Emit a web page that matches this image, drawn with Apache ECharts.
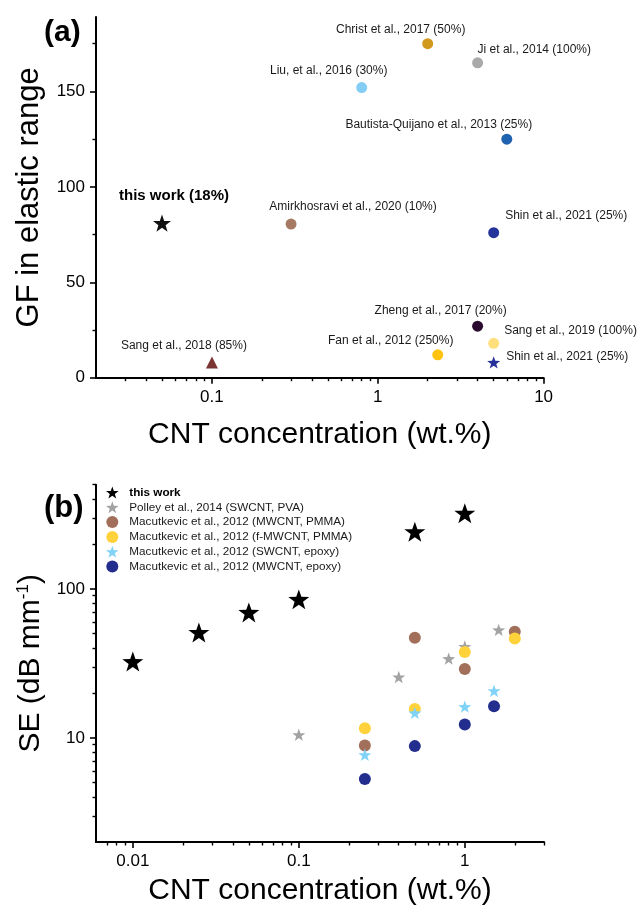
<!DOCTYPE html>
<html><head><meta charset="utf-8">
<script src="https://cdn.jsdelivr.net/npm/echarts@6/dist/echarts.min.js"></script>
<style>html,body{margin:0;padding:0;background:#fff}#c{width:640px;height:907px}</style>
</head><body><div id="c"></div>
<script>
// ---------- Panel (a): GF vs CNT concentration ----------
const gfNames = ['Christ et al., 2017 (50%)', 'Ji et al., 2014 (100%)', 'Liu, et al., 2016 (30%)',
  'Bautista-Quijano et al., 2013 (25%)', 'this work (18%)', 'Amirkhosravi et al., 2020 (10%)',
  'Shin et al., 2021 (25%)', 'Zheng et al., 2017 (20%)', 'Sang et al., 2019 (100%)',
  'Fan et al., 2012 (250%)', 'Shin et al., 2021 (25%)', 'Sang et al., 2018 (85%)'];
const gfConc  = [2.0, 4.0, 0.8, 6.0, 0.05, 0.3, 5.0, 4.0, 5.0, 2.3, 5.0, 0.1];
const gfValue = [175, 165, 152, 125, 81, 80.5, 76, 27, 18, 12, 8, 8];

// ---------- Panel (b): SE vs CNT concentration ----------
const seNames = ['this work', 'Polley et al., 2014 (SWCNT, PVA)', 'Macutkevic et al., 2012 (MWCNT, PMMA)',
  'Macutkevic et al., 2012 (f-MWCNT, PMMA)', 'Macutkevic et al., 2012 (SWCNT, epoxy)',
  'Macutkevic et al., 2012 (MWCNT, epoxy)'];
const thisWorkConc = [0.01, 0.025, 0.05, 0.1, 0.5, 1.0];
const thisWorkSE   = [32.5, 51, 69.5, 85, 242, 322];
const polleyConc   = [0.1, 0.4, 0.8, 1.0, 1.6];
const polleySE     = [10.5, 25.6, 34, 41, 53];
const mwPmmaConc   = [0.25, 0.5, 1.0, 2.0];
const mwPmmaSE     = [8.9, 47, 29, 51.5];
const fmwPmmaConc  = [0.25, 0.5, 1.0, 2.0];
const fmwPmmaSE    = [11.6, 15.6, 37.7, 46.5];
const swEpoxyConc  = [0.25, 0.5, 1.0, 1.5];
const swEpoxySE    = [7.7, 14.7, 16.2, 20.7];
const mwEpoxyConc  = [0.25, 0.5, 1.0, 1.5];
const mwEpoxySE    = [5.3, 8.8, 12.3, 16.3];

// ---------- Axes: ranges and tick labels ----------
const aXRange = [0.02, 10];
const aYRange = [0, 189];
const bXRange = [0.006, 3];
const bYRange = [2, 500];
const aXTicks = [0.1, 1, 10];      const aXTickLabels = ['0.1', '1', '10'];
const aYTicks = [0, 50, 100, 150]; const aYTickLabels = ['0', '50', '100', '150'];
const aYMinor = [25, 75, 125, 175];
const bXTicks = [0.01, 0.1, 1];    const bXTickLabels = ['0.01', '0.1', '1'];
const bYTicks = [10, 100];         const bYTickLabels = ['10', '100'];

// ---------- styles ----------
const FONT = "'Liberation Sans', Arial, sans-serif";
const STAR = 'path://M50,0L61.76,33.82L97.55,34.55L69.02,56.18L79.39,90.45L50,70L20.61,90.45L30.98,56.18L2.45,34.55L38.24,33.82Z';
const gfColors  = ['#D19A1E', '#A9A9A9', '#84CDF5', '#1F62B0', '#111111', '#A67A62', '#25349A', '#2B0B30', '#FFE07C', '#FFC20E', '#26309A', '#7B3434'];
const gfSymbols = ['circle', 'circle', 'circle', 'circle', STAR, 'circle', 'circle', 'circle', 'circle', 'circle', STAR, 'triangle'];
const gfSizes   = [11, 11, 11, 11, 18, 11, 11, 11, 11, 11, 13, 12];
// label placement relative to each point centre: [align, dx, dy]
const gfLabelPlace = [['center', -27, -14], ['left', 0, -13.5], ['center', -33, -17], ['center', -68, -14.5],
  ['center', 12, -27], ['center', 62, -17.5], ['left', 11.5, -16.5], ['center', -37, -15.5],
  ['left', 10.5, -12.5], ['center', -47, -14.5], ['left', 12.5, -5.5], ['center', -28, -16.5]];
const seColors  = ['#000000', '#A3A3A3', '#A2705A', '#FFD23C', '#80D3F7', '#232D8E'];
const seSymbols = [STAR, STAR, 'circle', 'circle', STAR, 'circle'];
const seSizes   = [21, 13, 12, 12, 13, 12];

const L10 = Math.log10;
function minorTicks(lo, hi) {
  const out = [];
  for (let d = Math.floor(L10(lo)); d <= Math.ceil(L10(hi)); d++) {
    for (let k = 2; k <= 9; k++) {
      const v = k * Math.pow(10, d);
      if (v > lo * 1.0001 && v <= hi * 1.0001) out.push(L10(v));
    }
  }
  return out;
}
function fmt(ticks, labels, isLog) {
  return function (v) {
    for (let i = 0; i < ticks.length; i++) {
      const t = isLog ? L10(ticks[i]) : ticks[i];
      if (Math.abs(t - v) < 1e-6) return labels[i];
    }
    return '';
  };
}
function mainAxis(grid, range, ticks, labels, isLog, name, nameGap, nameStyle) {
  const vals = isLog ? ticks.map(L10) : ticks.slice();
  return {
    type: 'value', gridIndex: grid,
    min: isLog ? L10(range[0]) : range[0], max: isLog ? L10(range[1]) : range[1],
    axisLine: { show: true, onZero: false, lineStyle: { color: '#000', width: 2 } },
    axisTick: { show: true, inside: false, length: 6, lineStyle: { color: '#000', width: 1.6 }, customValues: vals },
    axisLabel: { show: true, customValues: vals, formatter: fmt(ticks, labels, isLog), margin: 11,
      fontSize: 17, color: '#000', fontFamily: FONT },
    splitLine: { show: false },
    name: name, nameLocation: 'middle', nameGap: nameGap, nameTextStyle: nameStyle
  };
}
function minorAxis(grid, range, vals, isLog, pos) {
  return {
    type: 'value', gridIndex: grid, position: pos, offset: 0,
    min: isLog ? L10(range[0]) : range[0], max: isLog ? L10(range[1]) : range[1],
    axisLine: { show: false, onZero: false },
    axisTick: { show: true, inside: false, length: 3.5, lineStyle: { color: '#000', width: 1.4 }, customValues: vals },
    axisLabel: { show: false }, splitLine: { show: false }
  };
}
const titleStyle = { fontSize: 30, color: '#000', fontFamily: FONT };

const xAxes = [
  mainAxis(0, aXRange, aXTicks, aXTickLabels, true, 'CNT concentration (wt.%)', 42, titleStyle),
  mainAxis(1, bXRange, bXTicks, bXTickLabels, true, 'CNT concentration (wt.%)', 34, titleStyle),
  minorAxis(0, aXRange, minorTicks(aXRange[0], aXRange[1]), true, 'bottom'),
  minorAxis(1, bXRange, minorTicks(bXRange[0], bXRange[1]), true, 'bottom')
];
const yAxes = [
  mainAxis(0, aYRange, aYTicks, aYTickLabels, false, 'GF in elastic range', 51, { fontSize: 31, color: '#000', fontFamily: FONT }),
  mainAxis(1, bYRange, bYTicks, bYTickLabels, true, '{a|SE (dB mm}{s|-1}{a|)}', 41, {
    rich: { a: { fontSize: 30, color: '#000', fontFamily: FONT, lineHeight: 32 },
            s: { fontSize: 17, color: '#000', fontFamily: FONT, verticalAlign: 'top', lineHeight: 32 } } }),
  minorAxis(0, aYRange, aYMinor, false, 'left'),
  minorAxis(1, bYRange, minorTicks(bYRange[0] * 1.2, bYRange[1]), true, 'left')
];

const gfData = gfNames.map((n, i) => {
  const p = gfLabelPlace[i];
  const bold = (i === 4);
  return {
    name: n, value: [L10(gfConc[i]), gfValue[i]],
    symbol: gfSymbols[i], symbolSize: gfSizes[i], symbolKeepAspect: true,
    itemStyle: { color: gfColors[i], opacity: 1 },
    label: { show: true, position: 'inside', formatter: n, align: p[0], verticalAlign: 'middle',
      offset: [p[1], p[2]], fontSize: bold ? 15 : 12, fontWeight: bold ? 'bold' : 'normal',
      color: bold ? '#000' : '#1a1a1a', fontFamily: FONT }
  };
});

const seConc = [thisWorkConc, polleyConc, mwPmmaConc, fmwPmmaConc, swEpoxyConc, mwEpoxyConc];
const seVals = [thisWorkSE, polleySE, mwPmmaSE, fmwPmmaSE, swEpoxySE, mwEpoxySE];
const seSeries = seNames.map((n, s) => ({
  type: 'scatter', name: n, xAxisIndex: 1, yAxisIndex: 1,
  symbol: seSymbols[s], symbolSize: seSizes[s], symbolKeepAspect: true,
  itemStyle: { color: seColors[s], opacity: 1 },
  emphasis: { disabled: true },
  data: seConc[s].map((c, i) => [L10(c), L10(seVals[s][i])])
}));

const chart = echarts.init(document.getElementById('c'), null, { renderer: 'canvas' });
chart.setOption({
  animation: false,
  backgroundColor: '#fff',
  title: [
    { text: '(a)', left: 44, top: 18, padding: 0, textStyle: { fontSize: 30, fontWeight: 'bold', color: '#000', fontFamily: FONT } },
    { text: '(b)', left: 44, top: 493, padding: 0, textStyle: { fontSize: 31, fontWeight: 'bold', color: '#000', fontFamily: FONT } }
  ],
  grid: [
    { left: 96, top: 17, width: 447.6, height: 360.7, containLabel: false },
    { left: 96, top: 484.7, width: 448, height: 358.9, containLabel: false }
  ],
  xAxis: xAxes,
  yAxis: yAxes,
  legend: {
    orient: 'vertical', left: 106, top: 486.5, padding: 0, itemWidth: 16, itemHeight: 12, itemGap: 2.8,
    textStyle: { fontSize: 11.7, color: '#1a1a1a', fontFamily: FONT, padding: [0, 0, 0, 4] },
    data: seNames.map((n, i) => i === 0 ? { name: n, textStyle: { fontWeight: 'bold', color: '#000' } } : { name: n })
  },
  series: [{
    type: 'scatter', name: 'GF', xAxisIndex: 0, yAxisIndex: 0, data: gfData,
    itemStyle: { opacity: 1 }, emphasis: { disabled: true }
  }].concat(seSeries)
});
</script></body></html>
